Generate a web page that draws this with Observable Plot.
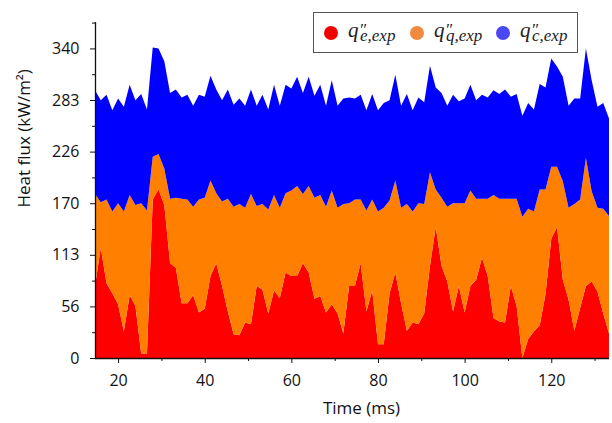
<!DOCTYPE html>
<html>
<head>
<meta charset="utf-8">
<script src="https://cdn.jsdelivr.net/npm/d3@7"></script>
<script src="https://cdn.jsdelivr.net/npm/@observablehq/plot@0.6"></script>
<style>
  body { margin: 0; background: #fff; }
  #wrap { position: relative; width: 612px; height: 423px; overflow: hidden; }
  #legend { position: absolute; left: 313px; top: 12px; }
</style>
</head>
<body>
<div id="wrap"><div id="chart"></div><div id="legend"></div></div>
<script>
// Time (ms)
const times = [
  14.67, 16, 17.33, 18.67, 20, 21.33, 22.67, 24, 25.33, 26.67,
  28, 29.33, 30.67, 32, 33.33, 34.67, 36, 37.33, 38.67, 40,
  41.33, 42.67, 44, 45.33, 46.67, 48, 49.33, 50.67, 52, 53.33,
  54.67, 56, 57.33, 58.67, 60, 61.33, 62.67, 64, 65.33, 66.67,
  68, 69.33, 70.67, 72, 73.33, 74.67, 76, 77.33, 78.67, 80,
  81.33, 82.67, 84, 85.33, 86.67, 88, 89.33, 90.67, 92, 93.33,
  94.67, 96, 97.33, 98.67, 100, 101.33, 102.67, 104, 105.33, 106.67,
  108, 109.33, 110.67, 112, 113.33, 114.67, 116, 117.33, 118.67, 120,
  121.33, 122.67, 124, 125.33, 126.67, 128, 129.33, 130.67, 132, 133.33
];
// q''_e,exp (kW/m2)
const eFlux = [
  79, 121, 82, 71, 59, 29, 69, 57, 5, 5,
  174, 185, 168, 104, 99, 60, 60, 69, 50, 54,
  90, 104, 79, 51, 26, 25, 39, 37, 79, 75,
  49, 74, 66, 94, 90, 90, 104, 94, 65, 68,
  50, 59, 49, 27, 79, 79, 104, 51, 74, 15,
  15, 71, 94, 60, 30, 39, 37, 49, 101, 144,
  101, 84, 51, 79, 50, 79, 86, 110, 90, 44,
  40, 39, 79, 57, 0, 21, 29, 36, 70, 131,
  144, 86, 64, 30, 55, 79, 84, 73, 49, 27
];
// q''_q,exp (kW/m2)
const qFlux = [
  101, 50, 92, 90, 111, 132, 110, 111, 165, 157,
  47, 39, 40, 71, 77, 115, 114, 97, 124, 122,
  105, 77, 93, 124, 140, 144, 126, 143, 88, 94,
  114, 105, 99, 87, 94, 99, 76, 95, 111, 111,
  116, 125, 116, 142, 91, 95, 70, 111, 100, 146,
  150, 102, 101, 105, 139, 122, 133, 120, 103, 41,
  75, 82, 119, 91, 120, 105, 89, 65, 85, 135,
  135, 136, 96, 118, 155, 143, 132, 149, 115, 79,
  66, 108, 101, 139, 119, 141, 99, 92, 115, 129
];
// q''_c,exp (kW/m2)
const cFlux = [
  114, 112, 115, 111, 115, 115, 121, 115, 120, 111,
  120, 116, 118, 116, 119, 111, 115, 111, 115, 111,
  115, 114, 111, 120, 112, 116, 112, 115, 110, 120,
  110, 121, 112, 119, 112, 120, 111, 120, 112, 121,
  111, 121, 112, 116, 116, 111, 115, 110, 116, 111,
  115, 110, 116, 112, 121, 111, 116, 112, 117, 112,
  115, 111, 119, 112, 115, 116, 108, 114, 111, 115,
  115, 120, 112, 115, 111, 116, 112, 116, 112, 119,
  110, 115, 112, 116, 111, 120, 122, 111, 116, 107
];

const seriesKeys = ["e", "q", "c"];
const seriesSubs = ["e,exp", "q,exp", "c,exp"];
const seriesFill = ["#FF0000", "#FF8000", "#0000FF"];
const legendDot = ["#F20000", "#EF8A3E", "#4A48F2"];

const xMajor = [20, 40, 60, 80, 100, 120];
const xMinor = [30, 50, 70, 90, 110, 130];
const yMajor = [0, 56.667, 113.333, 170, 226.667, 283.333, 340];
const yMajorLabels = ["0", "56", "113", "170", "226", "283", "340"];
const yMinor = [28.333, 85, 141.667, 198.333, 255, 311.667, 368.333];
const yMax = 369;

const xTitle = "Time (ms)";
const yTitle = "Heat flux (kW/m²)";

const seriesValues = [eFlux, qFlux, cFlux];
const data = [];
seriesKeys.forEach((k, s) => times.forEach((t, i) => data.push({t, series: k, value: seriesValues[s][i]})));

const chart = Plot.plot({
  width: 612,
  height: 423,
  marginLeft: 95,
  marginRight: 3,
  marginTop: 22,
  marginBottom: 65,
  style: {fontFamily: "'Open Sans', sans-serif", fontSize: "16px", color: "#111", background: "#fff", overflow: "visible"},
  x: {domain: [times[0], times[times.length - 1]]},
  y: {domain: [0, yMax]},
  color: {domain: seriesKeys, range: seriesFill},
  marks: [
    Plot.areaY(data, {x: "t", y: "value", fill: "series", z: "series", order: seriesKeys}),
    Plot.axisX({ticks: xMajor, tickSize: 5, tickPadding: 11, tickFormat: d => String(d), label: null}),
    Plot.axisX({ticks: xMinor, tickSize: 3, tickFormat: () => "", label: null}),
    Plot.axisY({ticks: yMajor, tickSize: 5, tickPadding: 11, tickFormat: d => yMajorLabels[yMajor.indexOf(d)], label: null}),
    Plot.axisY({ticks: yMinor, tickSize: 3, tickFormat: () => "", label: null}),
    Plot.ruleY([0], {stroke: "#111", strokeWidth: 1.3}),
    Plot.ruleX([times[0]], {stroke: "#111", strokeWidth: 1.3}),
    Plot.text([xTitle], {frameAnchor: "bottom", dx: 9, dy: 55, fontSize: 17, fill: "#111"}),
    Plot.text([yTitle], {frameAnchor: "left", rotate: -90, dx: -71, dy: 17, fontSize: 17, fill: "#111"})
  ]
});
document.getElementById("chart").appendChild(chart);

// Legend: "q" plus one text run holding the stacked prime and subscript
const NS = "http://www.w3.org/2000/svg";
const lg = document.createElementNS(NS, "svg");
lg.setAttribute("width", 265);
lg.setAttribute("height", 41);
const box = document.createElementNS(NS, "rect");
box.setAttribute("x", 0.5); box.setAttribute("y", 0.5);
box.setAttribute("width", 264); box.setAttribute("height", 40);
box.setAttribute("fill", "#fff"); box.setAttribute("stroke", "#555");
lg.appendChild(box);
const dotX = [18, 104, 190];
const labX = [35, 121, 207];
const font = "'Liberation Serif', 'DejaVu Serif', serif";
seriesKeys.forEach((k, i) => {
  const c = document.createElementNS(NS, "circle");
  c.setAttribute("cx", dotX[i]); c.setAttribute("cy", 21); c.setAttribute("r", 7);
  c.setAttribute("fill", legendDot[i]);
  lg.appendChild(c);
  const tq = document.createElementNS(NS, "text");
  tq.setAttribute("font-family", font); tq.setAttribute("font-style", "italic");
  tq.setAttribute("fill", "#222"); tq.setAttribute("font-size", 21);
  tq.setAttribute("x", labX[i]); tq.setAttribute("y", 25);
  tq.textContent = "q";
  lg.appendChild(tq);
  const ts = document.createElementNS(NS, "text");
  ts.setAttribute("font-family", font); ts.setAttribute("font-style", "italic");
  ts.setAttribute("fill", "#222"); ts.setAttribute("font-size", 17);
  ts.setAttribute("x", `${labX[i] + 11} ${labX[i] + 12}`);
  ts.setAttribute("y", "23 28.5");
  ts.textContent = "″" + seriesSubs[i];
  lg.appendChild(ts);
});
document.getElementById("legend").appendChild(lg);
</script>
</body>
</html>
